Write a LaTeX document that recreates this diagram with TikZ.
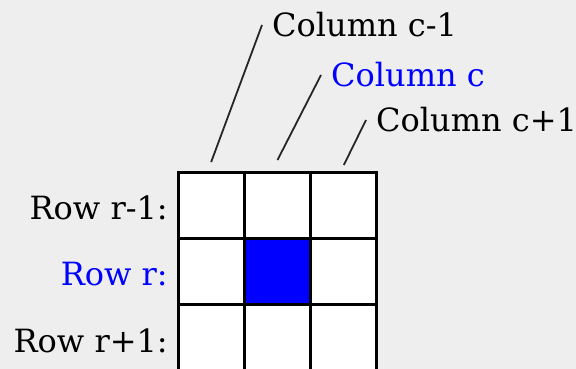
\documentclass[tikz,border=0pt]{standalone}
\usepackage{fontspec}
\setmainfont{DejaVu Serif}
\usetikzlibrary{positioning}
\definecolor{bggray}{RGB}{238,238,238}

\begin{document}
\begin{tikzpicture}[x=1pt, y=-1pt,
    cell/.style={rectangle, minimum size=66.33pt, inner sep=0pt, outer sep=0pt, draw=black, line width=3pt, fill=white},
    collbl/.style={anchor=west, inner xsep=10pt, inner ysep=0pt, font=\fontsize{32}{38}\selectfont},
    rowlbl/.style={inner sep=0pt, font=\fontsize{32}{38}\selectfont},
    leader/.style={line width=1.8pt, draw=black!85}
]
\useasboundingbox (0,0) rectangle (576,369);
\clip (0,0) rectangle (576,369);
\fill [bggray] (0,0) rectangle (576,369);
% 3x3 grid of cells
\node (r1c1) [cell] at (211.17,205.17) {};
\node (r1c2) [cell, right=0pt of r1c1] {};
\node (r1c3) [cell, right=0pt of r1c2] {};
\node (r2c1) [cell, below=0pt of r1c1] {};
\node (r2c2) [cell, fill=blue, right=0pt of r2c1] {};
\node (r2c3) [cell, right=0pt of r2c2] {};
\node (r3c1) [cell, below=0pt of r2c1] {};
\node (r3c2) [cell, right=0pt of r3c1] {};
\node (r3c3) [cell, right=0pt of r3c2] {};
% row labels
\node (rowA) [rowlbl, left=10pt of r1c1, yshift=-3pt] {Row r-1:};
\node (rowB) [rowlbl, text=blue, left=10pt of r2c1, yshift=-3pt] {Row r:};
\node (rowC) [rowlbl, left=10pt of r3c1, yshift=-3pt] {Row r+1:};
% column labels
\node (colA) [collbl] at (262,25) {Column c-1};
\node (colB) [collbl, text=blue] at (321,75) {Column c};
\node (colC) [collbl] at (366,120) {Column c+1};
\coordinate [above=10pt of r1c1] (footA);
\coordinate [above=12pt of r1c2] (footB);
\coordinate [above=7pt of r1c3] (footC);
\draw [leader] (footA) -- (colA.west);
\draw [leader] (footB) -- (colB.west);
\draw [leader] (footC) -- (colC.west);
\end{tikzpicture}
\end{document}
